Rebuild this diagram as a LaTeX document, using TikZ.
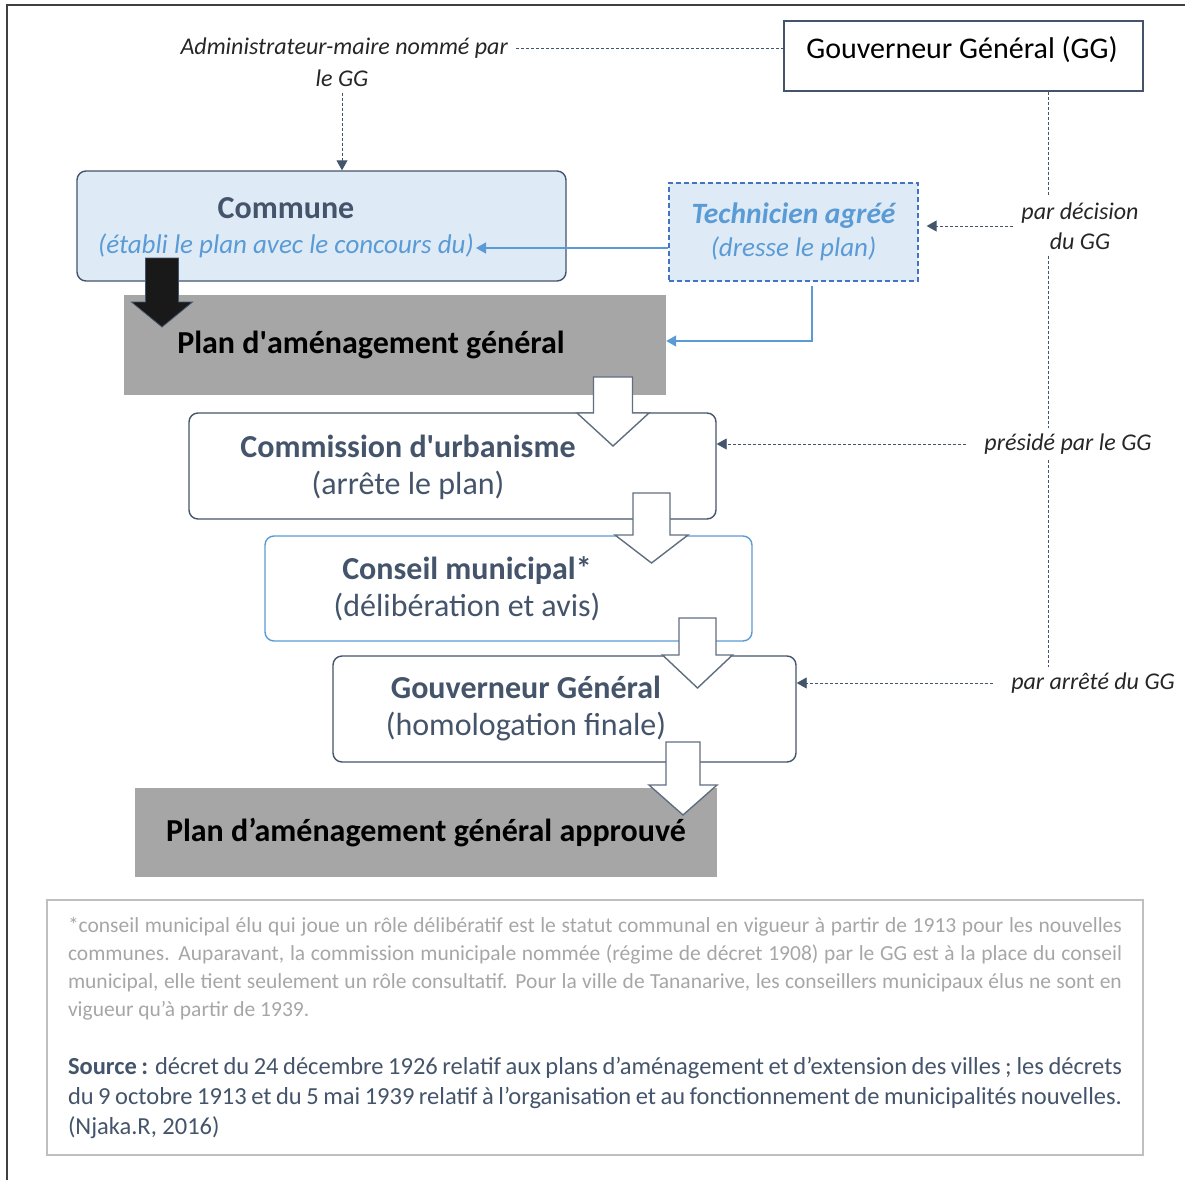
\documentclass[tikz,border=0pt]{standalone}
\usepackage{fontspec}
\setmainfont{Carlito}
\usetikzlibrary{arrows.meta}

\definecolor{slate}{HTML}{44546A}
\definecolor{skyblue}{HTML}{5B9BD5}
\definecolor{techblue}{HTML}{4472C4}
\definecolor{paleblue}{HTML}{DEEBF7}
\definecolor{plangray}{HTML}{A6A6A6}
\definecolor{notegray}{HTML}{A6A6A6}
\definecolor{noteframe}{HTML}{BFBFBF}
\definecolor{framegray}{HTML}{404040}

% block arrow: [style]{centre x}{top}{head base}{tip}{half shaft}{half head}
\newcommand{\flowarrow}[7][]{%
  \draw[#1] (#2-#6,#3) -- (#2+#6,#3) -- (#2+#6,#4) -- (#2+#7,#4) -- (#2,#5) -- (#2-#7,#4) -- (#2-#6,#4) -- cycle;}

\begin{document}
\begin{tikzpicture}[x=1pt, y=-1pt,  % pixel units, y going down
    flowbox/.style={draw=slate, line width=1.4pt, rounded corners=9pt, fill=white},
    boxtext/.style={text=slate, align=center, font=\fontsize{32}{37}\selectfont},
    grayplan/.style={fill=plangray, draw=none},
    gglabel/.style={font=\fontsize{24}{30}\selectfont\itshape, text=black!85, align=center, inner xsep=8pt, inner ysep=6pt},
    dashline/.style={draw=slate, line width=0.9pt, dash pattern=on 3pt off 2pt},
    blueline/.style={draw=skyblue, line width=1.3pt},
    tip/.style={-{Triangle[length=10pt,width=11pt]}},
    hollow/.style={draw=slate!85, fill=white, line width=1.4pt, line join=miter},
    solidarrow/.style={draw=slate, fill=black!90, line width=0.8pt}]

    \useasboundingbox (0,0) rectangle (1185,1180);

    % Draw the outer frame
    \draw[framegray, line width=1.6pt] (7,1180) -- (7,5) -- (1185,5);

    % Governor and the appointed mayor
    \node[draw=slate, line width=1.4pt, minimum width=359, minimum height=70] (gg) at (963.5,56) {};
    \node[font=\fontsize{30}{34}\selectfont, text=black] (ggtxt) at (962,50) {Gouverneur Général (GG)};
    \node[gglabel, anchor=east] (admin) at (516,48) {Administrateur-maire nommé par};
    \node[gglabel] (admin2) at (342,78) {le GG};

    % Draw the boxes
    \node[flowbox, fill=paleblue, minimum width=489, minimum height=110] (commune) at (321.5,226) {};
    \node[boxtext] (communetxt) at (286,228) {\textbf{Commune}\\[-2pt]{\color{skyblue}\itshape\fontsize{27}{33}\selectfont(établi le plan avec le concours du)}};

    \node[draw=techblue, fill=paleblue, line width=1.3pt, dash pattern=on 5pt off 3pt,
          minimum width=249, minimum height=98, text=skyblue, align=center,
          font=\fontsize{29.5}{35}\selectfont\itshape] (tech) at (793.5,232)
          {\textbf{Technicien agréé}\\[-2pt]{\fontsize{27}{32}\selectfont(dresse le plan)}};

    \node[grayplan, minimum width=542, minimum height=100] (plan) at (395,345) {};
    \node[font=\fontsize{32}{36}\selectfont\bfseries, text=black] (plantxt) at (371,345) {Plan d\textquotesingle aménagement général};

    \node[flowbox, minimum width=527, minimum height=106] (comm) at (452.5,466) {};
    \node[boxtext] (commtxt) at (408,467) {\textbf{Commission d\textquotesingle urbanisme}\\(arrête le plan)};

    \node[flowbox, draw=skyblue, minimum width=487, minimum height=105] (cons) at (508.5,588.5) {};
    \node[boxtext] (constxt) at (467,589) {\textbf{Conseil municipal*}\\(délibération et avis)};

    \node[flowbox, minimum width=463, minimum height=106] (gg2) at (564.5,709) {};
    \node[boxtext] (gg2txt) at (526,709) {\textbf{Gouverneur Général}\\(homologation finale)};

    \node[grayplan, minimum width=582, minimum height=89] (appr) at (426,832.5) {};
    \node[font=\fontsize{32}{36}\selectfont\bfseries, text=black] (apprtxt) at (426,833) {Plan d’aménagement général approuvé};

    % Labels along the governor's line
    \node[gglabel] (dec) at (1080,226) {par décision\\du GG};
    \node[gglabel] (pres) at (1068,444) {présidé par le GG};
    \node[gglabel] (arrete) at (1093,683) {par arrêté du GG};

    % Dashed links from the governor
    \coordinate (ggdrop) at ([xshift=84.5pt]gg.south);
    \draw[dashline] (admin.east) -- (admin.east -| gg.west);
    \draw[dashline, tip] (admin2.south) -- (admin2.south |- commune.north);
    \draw[dashline] (ggdrop) -- (ggdrop |- dec.north);
    \draw[dashline] (ggdrop |- dec.south) -- (ggdrop |- pres.north);
    \draw[dashline] (ggdrop |- pres.south) -- (ggdrop |- arrete.north);
    \draw[dashline, tip, shorten >=8pt] (dec.west) -- (dec.west -| tech.east);
    \draw[dashline, tip, shorten <=10pt] (pres.west) -- (pres.west -| comm.east);
    \draw[dashline, tip, shorten <=10pt] (arrete.west) -- (arrete.west -| gg2.east);

    % Blue links from the technician
    \coordinate (concours) at (476,248);
    \draw[blueline, tip] (tech.west |- concours) -- (concours);
    \draw[blueline, tip] ([xshift=18.5pt,yshift=-4pt]tech.south) |- ([yshift=4pt]plan.east);

    % Draw the block arrows
    \flowarrow[solidarrow]{162}{258}{302}{327}{16.5}{30.5}
    \flowarrow[hollow]{613}{377}{413}{446}{19.5}{36}
    \flowarrow[hollow]{651.5}{493}{535}{563}{18.5}{36.5}
    \flowarrow[hollow]{697.5}{618}{655}{688}{18.5}{35}
    \flowarrow[hollow]{683}{742}{785}{815}{17}{34}

    % Footnote and source
    \node[draw=noteframe, line width=1.3pt, minimum width=1096, minimum height=255,
          text width=1054pt, inner xsep=21pt, align=justify] (note) at (595,1027.5) {%
      {\color{notegray}\fontsize{21.5}{28}\selectfont
      \makebox[1054pt][s]{*conseil municipal élu qui joue un rôle délibératif est le statut communal en vigueur à partir de 1913 pour les nouvelles}\\
      \makebox[1054pt][s]{communes. Auparavant, la commission municipale nommée (régime de décret 1908) par le GG est à la place du conseil}\\
      \makebox[1054pt][s]{municipal, elle tient seulement un rôle consultatif. Pour la ville de Tananarive, les conseillers municipaux élus ne sont en}\\
      vigueur qu’à partir de 1939.\par}
      \vspace{28pt}
      {\color{slate}\fontsize{24.5}{30}\selectfont
      \makebox[1054pt][s]{\textbf{Source :} décret du 24 décembre 1926 relatif aux plans d’aménagement et d’extension des villes ; les décrets}\\
      \makebox[1054pt][s]{du 9 octobre 1913 et du 5 mai 1939 relatif à l’organisation et au fonctionnement de municipalités nouvelles.}\\
      (Njaka.R, 2016)\par}};

\end{tikzpicture}
\end{document}
